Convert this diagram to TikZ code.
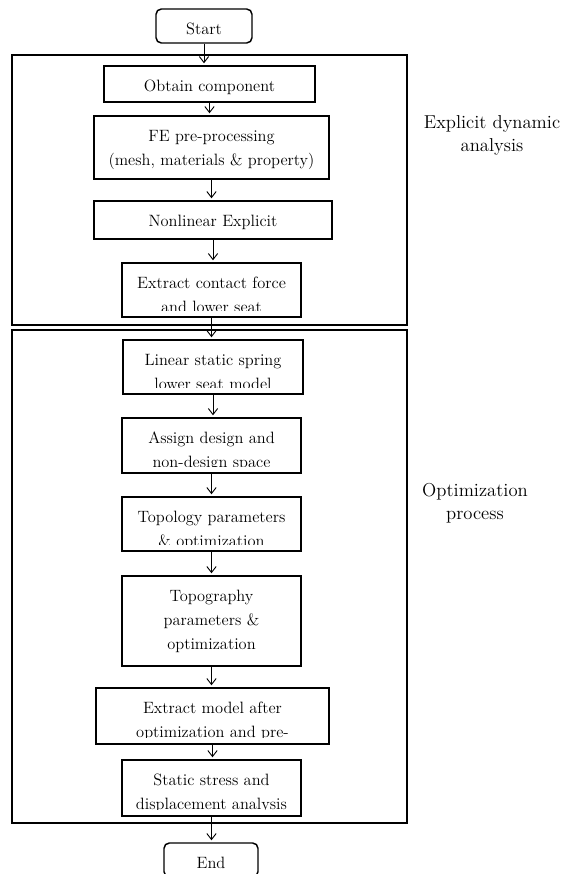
\documentclass[tikz,border=0pt]{standalone}
\usepackage{tikz}
\usetikzlibrary{arrows.meta, positioning, calc}

\tikzset{
  stepbox/.style={draw, line width=1.1pt, inner sep=0pt},
  termbox/.style={stepbox, rounded corners=4pt},
  boxtext/.style={anchor=north, inner sep=0pt, align=center, font=\fontsize{12.3}{18}\selectfont},
  grplabel/.style={align=center, font=\fontsize{14}{17.25}\selectfont},
  grpframe/.style={line width=0.9pt},
  flow/.style={-{Straight Barb[length=4.5pt,width=7pt]}, line width=0.7pt, shorten >=1.5pt},
}

\begin{document}
\begin{tikzpicture}[x=0.75pt, y=-0.75pt]
  \useasboundingbox (0,0) rectangle (563,874);
  \fill[white] (0,0) rectangle (563,874);
  % stage frames and their labels
  \draw[grpframe] (12,55) rectangle (407,325);
  \draw[grpframe] (12,330) rectangle (407,823);
  \node[grplabel] (explbl) at (492,135.5) {Explicit dynamic\\analysis};
  \node[grplabel] (optlbl) at (475,503.5) {Optimization\\process};
  % boxes
  \node[termbox, minimum width=72pt, minimum height=25.5pt] (start) at (204,26) {};
  \node[stepbox, minimum width=158.25pt, minimum height=27pt] (obtain) at (209.5,84) {};
  \node[stepbox, minimum width=176.25pt, minimum height=47.25pt] (fepre) at (211.5,147.5) {};
  \node[stepbox, minimum width=178.5pt, minimum height=28.5pt] (nonlin) at (213,220) {};
  \node[stepbox, minimum width=134.25pt, minimum height=40.5pt] (contact) at (211.5,290) {};
  \node[stepbox, minimum width=135pt, minimum height=40.5pt] (linear) at (213,367) {};
  \node[stepbox, minimum width=134.25pt, minimum height=41.25pt] (assign) at (211.5,445.5) {};
  \node[stepbox, minimum width=134.25pt, minimum height=40.5pt] (topology) at (211.5,524) {};
  \node[stepbox, minimum width=134.25pt, minimum height=67.5pt] (topography) at (211.5,621) {};
  \node[stepbox, minimum width=174.75pt, minimum height=42pt] (extmodel) at (212.5,716) {};
  \node[stepbox, minimum width=134.25pt, minimum height=42pt] (static) at (211.5,788) {};
  \node[termbox, minimum width=70.5pt, minimum height=25.5pt] (end) at (211,860) {};
  % box texts, cut off at the lower margin of each box
  \foreach \b/\t in {start/{Start}, obtain/{Obtain component},
      fepre/{FE pre-processing\\(mesh, materials \& property)}, nonlin/{Nonlinear Explicit},
      contact/{Extract contact force\\and lower seat}, linear/{Linear static spring\\lower seat model},
      assign/{Assign design and\\non-design space}, topology/{Topology parameters\\\& optimization},
      topography/{Topography\\parameters \&\\optimization}, extmodel/{Extract model after\\optimization and pre-},
      static/{Static stress and\\displacement analysis}, end/{End}} {
    \begin{scope}
      \clip ([yshift=5.5pt]\b.south west) rectangle (\b.north east);
      \node[boxtext] (\b-t) at ([yshift=-11pt]\b.north) {\t};
    \end{scope}
  }
  % arrows
  \foreach \a/\b in {start/obtain, obtain/fepre, fepre/nonlin, nonlin/contact, contact/linear,
      linear/assign, assign/topology, topology/topography, topography/extmodel,
      extmodel/static, static/end}
    \draw[flow] (\a.south) -- (\a.south |- \b.north);
\end{tikzpicture}
\end{document}
